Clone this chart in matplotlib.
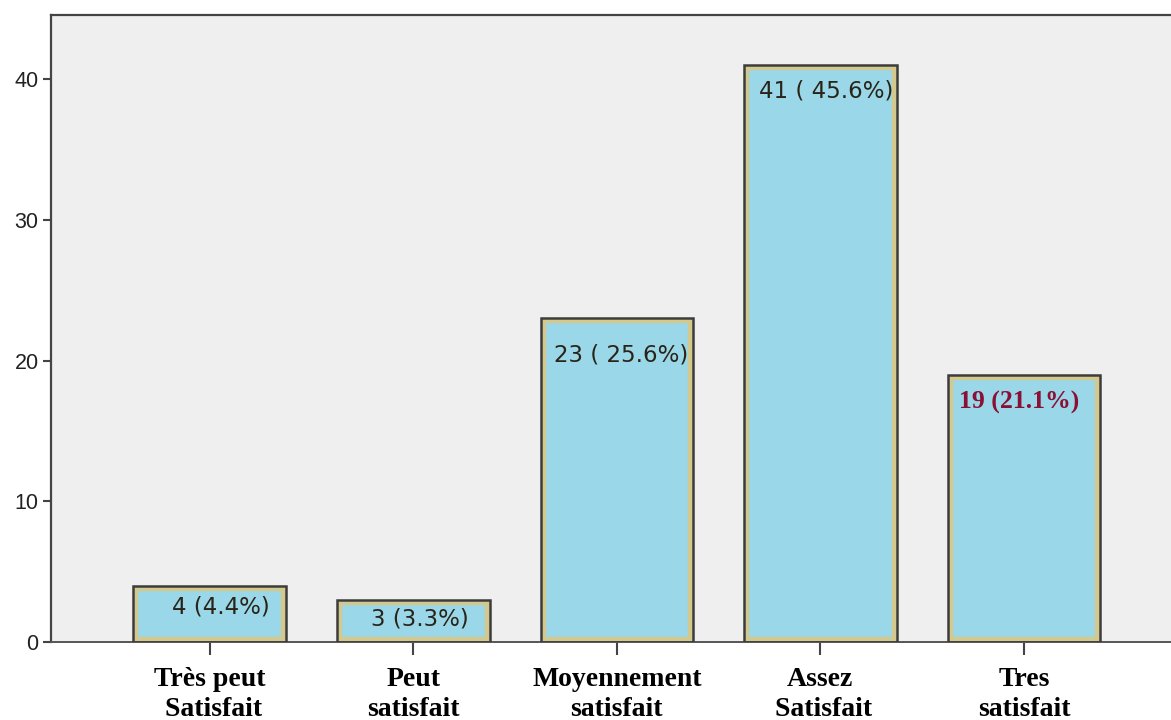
import matplotlib
matplotlib.use("Agg")
import matplotlib.pyplot as plt
from matplotlib.transforms import offset_copy

categories = ["Très peut\n Satisfait", "Peut\nsatisfait", "Moyennement\nsatisfait",
              "Assez\n Satisfait", "Tres\nsatisfait"]
counts = [4, 3, 23, 41, 19]
value_labels = ["4 (4.4%)", "3 (3.3%)", "23 ( 25.6%)", "41 ( 45.6%)", "19 (21.1%)"]
yticks = [0, 10, 20, 30, 40]

# label placement: horizontal shift and drop below bar top, in pixels
label_dx = [11, 7, 4, 6, -5]
label_dy = [10, 8, 25, 15, 16]

fig = plt.figure(figsize=(11.71, 7.20), dpi=100)
fig.patch.set_facecolor("white")
ax = fig.add_axes([51 / 1171, 1 - 642 / 720, 1 - 51 / 1171 + 0.01, (642 - 15) / 720])
ax.set_facecolor("#efefef")

x = list(range(len(categories)))
fill = "#9ad8e9"
inner = "#d3c98f"
outer = "#3c3c3c"

# fill with an inner khaki border (clipped to the bar so only its inside half shows)
bars = ax.bar(x, counts, width=0.75, color=fill, edgecolor=inner, linewidth=7.5, zorder=2)
for b in bars:
    b.set_clip_path(b)
# dark outer outline
ax.bar(x, counts, width=0.75, color="none", edgecolor=outer, linewidth=1.8, zorder=3)

for i, (xi, c, lab) in enumerate(zip(x, counts, value_labels)):
    tr = offset_copy(ax.transData, fig=fig, x=label_dx[i], y=-label_dy[i], units="dots")
    if i == len(counts) - 1:
        ax.text(xi, c, lab, transform=tr, ha="center", va="top", fontsize=18.5,
                family="Liberation Serif", fontweight="bold", color="#8a1035", zorder=4)
    else:
        ax.text(xi, c, lab, transform=tr, ha="center", va="top", fontsize=16.5,
                family="DejaVu Sans", color="#2a2418", zorder=4)

ax.set_xlim(-0.78, 4.78)
ax.set_ylim(0, 44.55)
ax.set_yticks(yticks)
ax.set_xticks(x)
ax.set_xticklabels(categories, family="Liberation Serif", fontweight="bold",
                   fontsize=20, linespacing=1.28)
ax.tick_params(axis="x", length=9, width=1.5, color="#444444", pad=9)
ax.tick_params(axis="y", length=6, width=1.5, color="#444444", labelsize=15.5,
               labelcolor="#222222", pad=3)
for t in ax.get_yticklabels():
    t.set_family("Liberation Sans")

for s in ["left", "top"]:
    ax.spines[s].set_color("#444444")
    ax.spines[s].set_linewidth(1.6)
ax.spines["bottom"].set_color("#555555")
ax.spines["bottom"].set_linewidth(1.4)
ax.spines["right"].set_visible(False)

fig.savefig("out.png", dpi=100)
